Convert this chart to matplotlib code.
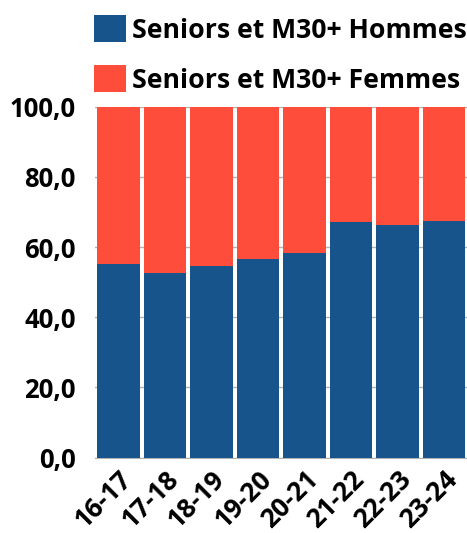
import matplotlib
matplotlib.use("Agg")
import matplotlib.pyplot as plt
from matplotlib.ticker import FuncFormatter

saisons = ["16-17", "17-18", "18-19", "19-20", "20-21", "21-22", "22-23", "23-24"]
hommes = [55.3, 52.7, 54.7, 56.7, 58.4, 67.2, 66.4, 67.5]
femmes = [100 - h for h in hommes]

bleu = "#17548B"
rouge = "#FF4D3B"

plt.rcParams['font.family'] = ['Open Sans', 'DejaVu Sans']
plt.rcParams['font.weight'] = 'bold'

fig = plt.figure(figsize=(4.67, 5.33), dpi=100)
ax = fig.add_axes([0.2034, 0.1413, 0.797, 0.6587])

x = range(len(saisons))
b1 = ax.bar(x, hommes, width=0.914, color=bleu, label="Seniors et M30+ Hommes", zorder=3)
b2 = ax.bar(x, femmes, width=0.914, bottom=hommes, color=rouge,
            label="Seniors et M30+ Femmes", zorder=3)

ax.set_xlim(-0.5, len(saisons) - 0.5)
ax.set_ylim(0, 100)
ax.set_yticks([0, 20, 40, 60, 80, 100])
ax.yaxis.set_major_formatter(FuncFormatter(lambda v, p: ('%.1f' % v).replace('.', ',')))
ax.grid(axis='y', color='#b3b3b3', linewidth=1, zorder=0)
for s in ['top', 'right', 'left']:
    ax.spines[s].set_visible(False)
ax.spines['bottom'].set_color('#b3b3b3')
ax.tick_params(axis='y', length=0, pad=14, labelsize=18.5)
ax.tick_params(axis='x', length=0, pad=6, labelsize=19)
ax.set_xticks(list(x))
ax.set_xticklabels(saisons, rotation=45, ha='right', rotation_mode='anchor')
for lbl in ax.get_xticklabels() + ax.get_yticklabels():
    lbl.set_fontweight('bold')

fig.legend(handles=[b1, b2], loc='upper left', bbox_to_anchor=(94 / 467, 1 - 15 / 533),
           frameon=False, handlelength=1.2, handleheight=1.2,
           handletextpad=0.22, labelspacing=0.8, borderpad=0, borderaxespad=0,
           prop={'weight': 'bold', 'size': 19.2})

fig.savefig("out.png", dpi=100)
